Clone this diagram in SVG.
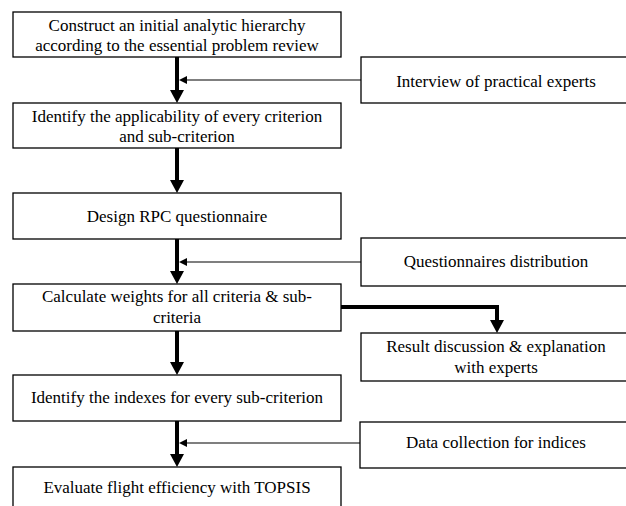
<svg xmlns="http://www.w3.org/2000/svg" width="626" height="506" viewBox="0 0 626 506">
<style>
.box{fill:#fff;stroke:#000;stroke-width:1.3}
.lbl text{font-family:'Liberation Serif','Times New Roman',serif;font-size:17px;fill:#000;text-anchor:middle}
.thick{stroke:#000;stroke-width:4;fill:none}
.thin{stroke:#000;stroke-width:1.2;fill:none}
.head{fill:#000}
</style>
<rect width="626" height="506" fill="#fff"/>
<g id="connectors">
<line class="thick" x1="177" y1="57" x2="177" y2="92"/>
<polygon class="head" points="170,90 184,90 177,103"/>
<line class="thin" x1="361" y1="80" x2="184" y2="80"/>
<polygon class="head" points="179,80 187,76 187,84"/>
<line class="thick" x1="177" y1="148" x2="177" y2="182"/>
<polygon class="head" points="170,180 184,180 177,193"/>
<line class="thick" x1="177" y1="239" x2="177" y2="273"/>
<polygon class="head" points="170,271 184,271 177,284"/>
<line class="thin" x1="361" y1="262" x2="184" y2="262"/>
<polygon class="head" points="179,262 187,258 187,266"/>
<polyline class="thick" points="341,307 497,307 497,322"/>
<polygon class="head" points="490,320 504,320 497,333"/>
<line class="thick" x1="177" y1="331" x2="177" y2="364"/>
<polygon class="head" points="170,362 184,362 177,375"/>
<line class="thick" x1="177" y1="421" x2="177" y2="456"/>
<polygon class="head" points="170,454 184,454 177,467"/>
<line class="thin" x1="360" y1="443" x2="184" y2="443"/>
<polygon class="head" points="179,443 187,439 187,447"/>
</g>
<g class="lbl">
<g id="n1"><rect class="box" x="13" y="12" width="328" height="45"/><text x="177" y="31">Construct an initial analytic hierarchy</text><text x="177" y="51">according to the essential problem review</text></g>
<g id="n2"><rect class="box" x="13" y="103" width="328" height="45"/><text x="177" y="122">Identify the applicability of every criterion</text><text x="177" y="142">and sub-criterion</text></g>
<g id="n3"><rect class="box" x="13" y="193" width="328" height="46"/><text x="177" y="222">Design RPC questionnaire</text></g>
<g id="n4"><rect class="box" x="13" y="284" width="328" height="47"/><text x="177" y="302">Calculate weights for all criteria &amp; sub-</text><text x="177" y="323">criteria</text></g>
<g id="n5"><rect class="box" x="13" y="375" width="328" height="46"/><text x="177" y="403">Identify the indexes for every sub-criterion</text></g>
<g id="n6"><rect class="box" x="13" y="467" width="328" height="50"/><text x="177" y="493">Evaluate flight efficiency with TOPSIS</text></g>
<g id="r1"><rect class="box" x="361" y="57" width="270" height="46"/><text x="496" y="87">Interview of practical experts</text></g>
<g id="r2"><rect class="box" x="361" y="238" width="270" height="48"/><text x="496" y="267">Questionnaires distribution</text></g>
<g id="r3"><rect class="box" x="361" y="333" width="270" height="48"/><text x="496" y="352">Result discussion &amp; explanation</text><text x="496" y="373">with experts</text></g>
<g id="r4"><rect class="box" x="360" y="422" width="271" height="46"/><text x="496" y="448">Data collection for indices</text></g>
</g>
</svg>
